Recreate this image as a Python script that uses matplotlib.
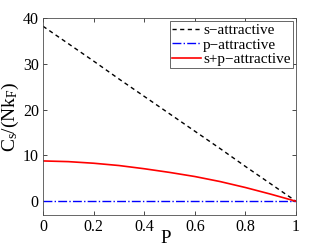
# MATLAB-style line chart: C_s/(Nk_F) vs P
import matplotlib
matplotlib.use("Agg")
import matplotlib.pyplot as plt

P = [0.0, 0.1, 0.2, 0.3, 0.4, 0.5, 0.6, 0.7, 0.8, 0.9, 1.0]
s_attr = [38.2, 34.4, 30.6, 26.7, 22.9, 19.1, 15.3, 11.5, 7.6, 3.8, 0.0]
p_attr = [0.0] * 11
sp_attr = [8.8, 8.65, 8.3, 7.8, 7.1, 6.3, 5.4, 4.3, 3.0, 1.55, 0.0]

plt.rcParams['font.family'] = ['Liberation Serif', 'DejaVu Serif']
plt.rcParams['mathtext.fontset'] = 'custom'
plt.rcParams['mathtext.rm'] = 'Liberation Serif'
plt.rcParams['mathtext.it'] = 'Liberation Serif'

fig = plt.figure(figsize=(3.27, 2.46), dpi=100)
ax = fig.add_axes([43 / 327, 31 / 246, 253 / 327, 197 / 246])

ax.plot(P, s_attr, 'k--', lw=1.0, dashes=(3, 2.5), label='s\u2212attractive')
ax.plot(P, p_attr, 'b-.', lw=1.0, label='p\u2212attractive')
ax.plot(P, sp_attr, 'r-', lw=1.2, label='s+p\u2212attractive')

ax.set_xlim(0, 1)
ax.set_ylim(-3, 40)
ax.set_xticks([0, 0.2, 0.4, 0.6, 0.8, 1])
ax.set_xticklabels(['0', '0.2', '0.4', '0.6', '0.8', '1'])
ax.set_yticks([0, 10, 20, 30, 40])
ax.tick_params(direction='in', top=True, right=True, labelsize=11.5, length=3, width=0.5, pad=3)
for sp in ax.spines.values():
    sp.set_linewidth(0.6)
    sp.set_color('0.3')

ax.set_xlabel('P', fontsize=13.5)
ax.xaxis.set_label_coords(0.485, -0.075)
ax.set_ylabel(r'$\mathrm{C_s/(Nk_F)}$', fontsize=14, labelpad=1)

leg = ax.legend(loc='upper right', fontsize=11, fancybox=False, framealpha=1,
                edgecolor='0.3', handlelength=1.9, handletextpad=0.15,
                borderpad=0.15, labelspacing=0.05, borderaxespad=0.2)
leg.get_frame().set_linewidth(0.6)

plt.savefig('out.png', dpi=100)
